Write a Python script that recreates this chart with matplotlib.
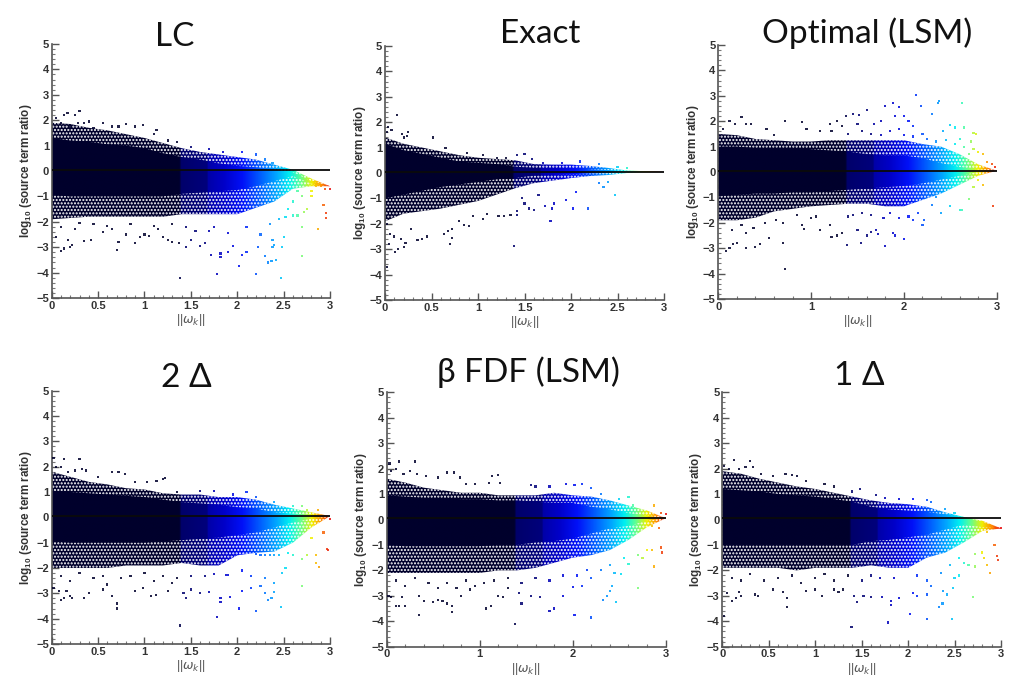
import numpy as np
import matplotlib
matplotlib.use("Agg")
import matplotlib.pyplot as plt
from matplotlib.colors import LinearSegmentedColormap
from matplotlib.patches import Polygon

plt.rcParams["font.family"] = ["Liberation Sans", "DejaVu Sans"]
plt.rcParams["mathtext.fontset"] = "custom"
plt.rcParams["mathtext.bf"] = "Liberation Sans:bold"
plt.rcParams["mathtext.rm"] = "Liberation Sans"

W, H = 1029, 675

titles = ["LC", "Exact", "Optimal (LSM)", "2 Δ", "β FDF (LSM)", "1 Δ"]

# envelope of the cloud, read at every 0.2 of ||omega_k||
nodes = [0, .2, .4, .6, .8, 1.0, 1.2, 1.4, 1.6, 1.8, 2.0, 2.2, 2.4, 2.6, 2.8, 3.0]

lc_core_hi = [1.3, 1.2, 1.15, 1.05, 1.0, .9, .7, .55, .45, .3, .2, .15, .05, -.05, -.4, -.6]
lc_core_lo = [-.95, -1, -1, -1, -1, -1, -1, -.9, -.85, -.8, -.75, -.6, -.4, -.2, -.5, -.6]
lc_edge_hi = [1.9, 1.85, 1.7, 1.6, 1.45, 1.3, 1.1, .9, .75, .65, .55, .45, .25, .05, -.3, -.6]
lc_edge_lo = [-1.9, -1.85, -1.8, -1.8, -1.8, -1.8, -1.8, -1.7, -1.7, -1.7, -1.7, -1.45, -1.2, -.7, -.6, -.6]

ex_core_hi = [1.15, .9, .75, .6, .45, .4, .35, .25, .2, .2, .2, .15, .12, .08, .06, .05]
ex_core_lo = [-1, -.85, -.7, -.55, -.45, -.35, -.25, -.2, -.1, -.08, -.05, -.02, 0, .03, .04, .05]
ex_edge_hi = [1.4, 1.15, 1.0, .85, .7, .6, .55, .5, .35, .33, .33, .28, .2, .1, .07, .05]
ex_edge_lo = [-1.9, -1.6, -1.5, -1.4, -1.25, -1.1, -.85, -.6, -.4, -.3, -.2, -.12, -.08, 0, .03, .05]

op_core_hi = [1, 1, .95, .95, .95, .9, .85, .8, .7, .65, .65, .55, .35, .2, .1, .05]
op_core_lo = [-.95, -.9, -.85, -.85, -.8, -.8, -.75, -.7, -.65, -.6, -.55, -.45, -.3, -.15, 0, .05]
op_edge_hi = [1.5, 1.45, 1.3, 1.25, 1.2, 1.2, 1.25, 1.25, 1.25, 1.25, 1.25, 1.1, 1.0, .7, .3, .05]
op_edge_lo = [-1.9, -1.9, -1.8, -1.55, -1.45, -1.35, -1.3, -1.25, -1.25, -1.35, -1.35, -1.1, -.85, -.5, -.15, .05]

d2_core_hi = [1.05, 1, .95, .9, .85, .8, .7, .6, .55, .5, .4, .35, .2, .15, .1, .05]
d2_core_lo = [-.95, -1, -1, -1, -1, -1, -.95, -.9, -.85, -.8, -.7, -.6, -.4, -.2, -.05, .05]
d2_edge_hi = [1.8, 1.6, 1.4, 1.3, 1.15, 1.1, .95, .9, .9, .8, .8, .7, .5, .35, .2, .05]
d2_edge_lo = [-2, -2, -2, -2, -1.9, -1.9, -1.9, -1.8, -1.9, -1.9, -1.5, -1.4, -1.35, -1, -.4, .05]

bf_core_hi = [.95, .9, .85, .85, .8, .8, .75, .75, .7, .65, .65, .5, .4, .25, .15, .05]
bf_core_lo = [-1, -1.05, -1.05, -1.05, -1.05, -1.05, -1, -1, -.9, -.85, -.75, -.55, -.35, -.25, -.05, .05]
bf_edge_hi = [1.6, 1.45, 1.25, 1.15, 1.05, 1.05, .95, .95, .95, 1.05, .95, .9, .75, .55, .35, .05]
bf_edge_lo = [-2.1, -2.1, -2.1, -2.1, -2.1, -2.1, -2, -2, -1.9, -1.7, -1.5, -1.4, -1.2, -.8, -.3, .05]

d1_core_hi = [1.2, 1.15, 1.1, 1, .95, .9, .8, .7, .5, .4, .35, .3, .2, .1, -.1, -.35]
d1_core_lo = [-1, -1, -1, -1, -1, -1, -1, -1, -.85, -.8, -.7, -.6, -.4, -.2, -.3, -.35]
d1_edge_hi = [1.9, 1.8, 1.6, 1.45, 1.3, 1.2, 1.05, .9, .75, .65, .6, .5, .28, .1, -.05, -.35]
d1_edge_lo = [-1.9, -1.9, -1.9, -1.9, -2, -1.9, -1.9, -1.9, -1.8, -1.9, -1.9, -1.5, -1.3, -.9, -.45, -.35]

# isolated points outside the cloud, (x, y)
lc_pts = [(.05, 2.1), (.1, 1.9), (.13, 2.2), (.17, 2.3), (.2, 1.75), (.25, 2.2), (.3, 2.35), (.28, 1.9), (.35, 1.9), (.4, 1.95), (.45, 1.7), (.55, 1.9), (.65, 1.75), (.72, 1.75), (.8, 1.85), (.9, 1.75), (.98, 1.8), (1.1, 1.45), (1.13, 1.6), (1.25, 1.2), (1.35, 1.15), (1.5, .95), (1.7, .85), (1.85, .75), (2.05, .75), (2.2, .65), (2.3, .45), (2.38, .3),
          (.05, -2.6), (.1, -3.15), (.13, -3.05), (.18, -2.7), (.2, -3), (.22, -2.9), (.35, -2.75), (.42, -2.7), (.55, -2.4), (.7, -3.1), (.72, -2.8), (.8, -2.5), (.9, -2.85), (.95, -2.6), (1, -2.5), (1.05, -2.55), (1.2, -2.6), (1.25, -2.7), (1.3, -2.8), (1.38, -4.2), (1.37, -2.85), (1.45, -3), (1.5, -2.7), (1.6, -2.95), (1.65, -2.85), (1.72, -3.3), (1.78, -4.05), (1.82, -3.25), (1.82, -3.4), (1.9, -3.2), (1.95, -2.95), (2.02, -3.75), (2.05, -3.3), (2.1, -3.2), (2.2, -4.05), (2.22, -3), (2.3, -3.35), (2.33, -3.6), (2.37, -3.55), (2.38, -3), (2.4, -2.9), (2.38, -2.7), (2.42, -3.5), (2.47, -4.2), (2.48, -3), (2.5, -2.6), (2.52, -1.8), (2.55, -1.5), (2.6, -1.75), (2.65, -1.75), (2.7, -2.2), (2.7, -3.35), (2.72, -1.6), (2.75, -1.5), (2.8, -1), (2.85, -.6), (2.87, -2.3), (2.9, -.6), (2.95, -.7), (2.93, -1.35), (2.96, -1.65), (2.96, -1.85), (3, -.7), (2.8, -.8), (2.75, -.55), (2.85, -.5),
          (.1, -2.2), (.25, -2.3), (.3, -2.05), (.45, -2.1), (.6, -2.15), (.65, -2.3), (.85, -2.1), (1.1, -2.15), (1.15, -2.3), (1.3, -2.1), (1.45, -2.2), (1.55, -2.35), (1.7, -2.35), (1.75, -2.2), (1.9, -2.45), (2.1, -2.2), (2.25, -2.5), (2.35, -2.1), (2.45, -1.9), (2.6, -1.2), (2.7, -1.0), (2.65, -.8)]

ex_pts = [(.02, 1.6), (.03, 1.8), (.07, 1.7), (.13, 2.28), (.18, 1.55), (.2, 1.4), (.25, 1.6), (.24, 1.45), (.52, 1.4), (.65, 1), (.88, .8), (1.05, .7), (1.2, .6), (1.3, .6), (1.42, .72), (1.5, .75), (1.58, .55), (1.7, .4), (1.9, .4), (2.1, .45), (2.3, .35), (2.5, .25), (2.6, .2),
          (.02, -2), (.04, -2.8), (.05, -2.4), (.02, -3.7), (.1, -2.5), (.11, -3.1), (.14, -3), (.17, -2.6), (.2, -2.9), (.22, -2.75), (.28, -2.2), (.35, -2.65), (.4, -2.6), (.45, -2.5), (.63, -2.4), (.68, -2.3), (.7, -2.8), (.72, -2.55), (.72, -2.2), (.8, -1.9), (.85, -2.05), (.9, -2.1), (.95, -1.7), (1.05, -1.8), (1.1, -1.6), (1.22, -1.7), (1.28, -1.7), (1.35, -1.65), (1.39, -2.87), (1.42, -1.5), (1.42, -1.65), (1.47, -1), (1.5, -1.2), (1.55, -1.4), (1.6, -1.45), (1.65, -.85), (1.72, -1.3), (1.78, -1.9), (1.8, -1.4), (1.82, -1.2), (1.95, -1.05), (2.02, -1.4), (2.05, -.75), (2.18, -1.4), (2.3, -.4), (2.35, -.55), (2.4, -.35), (2.47, -.85)]

op_pts = [(.05, 1.7), (.12, 2), (.18, 1.9), (.25, 2.15), (.3, 1.9), (.35, 1.9), (.52, 1.7), (.6, 1.45), (.72, 2.02), (.9, 1.97), (.95, 1.7), (1.1, 1.6), (1.2, 1.9), (1.22, 1.6), (1.28, 2), (1.33, 1.8), (1.38, 2.2), (1.45, 2.3), (1.5, 1.9), (1.52, 2.25), (1.6, 2.45), (1.68, 1.9), (1.75, 2), (1.8, 2.6), (1.88, 2.72), (1.9, 2.2), (1.95, 2.55), (2, 2.2), (2.05, 2), (2.1, 1.8), (2.13, 3.03), (2.18, 2.6), (2.2, 1.5), (2.3, 2.28), (2.37, 2.7), (2.38, 2.8), (2.42, 1.6), (2.5, 1.85), (2.55, 1.75), (2.6, 1.3), (2.63, 2.7), (2.65, 1.75), (2.72, 1.2), (2.75, 1.55), (2.78, 1.5), (2.8, .8), (2.85, .7), (2.9, .4), (2.95, .3), (2.98, .2),
          (1.4, 1.5), (1.55, 1.6), (1.65, 1.5), (1.75, 1.45), (1.85, 1.6), (1.95, 1.7), (2.0, 1.45), (2.1, 1.4), (2.25, 1.3), (2.35, 1.2), (2.45, 1.25), (2.55, 1.1), (2.65, 1.0), (2.7, .7), (2.75, .9),
          (.08, -3.1), (.12, -3), (.16, -2.85), (.2, -2.8), (.3, -3), (.4, -2.95), (.45, -2.85), (.55, -2.6), (.7, -2.8), (.72, -3.83), (.9, -2.1), (.92, -2.25), (1, -1.8), (1.1, -2.3), (1.2, -2.1), (1.22, -2.55), (1.28, -2.5), (1.33, -2.4), (1.39, -2.87), (1.45, -1.7), (1.5, -2.3), (1.54, -2.8), (1.6, -2.5), (1.65, -2.35), (1.7, -2.3), (1.72, -2.45), (1.8, -2.9), (1.88, -2.4), (1.9, -2.5), (2, -2.65), (2.05, -1.75), (2.1, -1.9), (2.2, -2.1), (2.22, -1.9), (2.35, -1), (2.4, -1.6), (2.5, -1.35), (2.6, -1.5), (2.63, -1.5), (2.7, -1.05), (2.75, -.6), (2.85, -.5), (2.96, -1.35), (2.8, -.3),
          (.15, -2.3), (.25, -2.1), (.3, -2.4), (.38, -2.2), (.5, -2.0), (.62, -1.9), (.7, -2.0), (.85, -1.7), (1.05, -1.75), (1.4, -1.75), (1.55, -1.6), (1.65, -1.7), (1.78, -1.8), (1.85, -1.6), (1.95, -1.8), (2.15, -1.6), (2.3, -1.3)]

d2_pts = [(.02, 2.35), (.05, 2), (.1, 2), (.13, 2.3), (.18, 1.8), (.25, 1.85), (.3, 2.3), (.33, 1.9), (.37, 1.85), (.5, 1.6), (.65, 1.8), (.72, 1.8), (.79, 1.7), (.9, 1.4), (1.03, 1.4), (1.13, 1.45), (1.2, 1.5), (1.22, 1.55), (1.35, 1), (1.6, 1.05), (1.75, 1.05), (1.95, .9), (2.1, 1), (2.2, .8), (2.4, .6), (2.6, .45), (2.7, .45), (2.87, .3), (2.75, .3),
          (.02, -2.8), (.08, -2.9), (.1, -3.25), (.13, -3.2), (.16, -2.9), (.2, -3.1), (.22, -3.2), (.35, -3.2), (.4, -3), (.55, -2.85), (.65, -3.1), (.7, -3.4), (.7, -3.6), (.9, -2.9), (.98, -2.8), (1.07, -3.1), (1.12, -3.05), (1.25, -2.9), (1.3, -2.6), (1.38, -4.27), (1.42, -3), (1.45, -3.2), (1.5, -2.85), (1.6, -3), (1.7, -2.95), (1.78, -3.95), (1.82, -3.2), (1.82, -3.35), (1.92, -3.15), (2.02, -3.6), (2.05, -2.9), (2.15, -2.8), (2.2, -3.7), (2.25, -2.7), (2.3, -3), (2.33, -3.25), (2.37, -3.2), (2.4, -2.6), (2.4, -2.95), (2.47, -3.55), (2.48, -2.2), (2.52, -2), (2.55, -1.4), (2.6, -1.5), (2.7, -2.7), (2.7, -1.65), (2.75, -1.5), (2.8, -.8), (2.85, -1.8), (2.88, -1.95), (2.85, -1.5), (2.93, -.6), (2.97, -1.25), (2.98, -1.3), (3, -.05), (2.2, -1.45), (2.25, -1.47), (2.3, -1.5), (2.35, -1.47), (2.4, -1.47), (2.45, -1.47), (1.9, -2.28), (1.88, -2.28),
          (.1, -2.3), (.2, -2.5), (.3, -2.2), (.45, -2.4), (.55, -2.3), (.6, -2.65), (.75, -2.4), (.85, -2.3), (1, -2.2), (1.1, -2.5), (1.2, -2.3), (1.35, -2.4), (1.5, -2.3), (1.65, -2.3), (1.75, -2.25), (2.05, -2.1), (2.15, -2.3), (2.3, -2.4)]

bf_pts = [(.03, 2.2), (.05, 1.9), (.1, 2), (.13, 2.28), (.18, 1.8), (.25, 1.9), (.3, 2.28), (.33, 1.8), (.42, 1.7), (.55, 1.65), (.65, 1.85), (.72, 1.85), (.79, 1.65), (.85, 1.4), (.95, 1.4), (1.1, 1.45), (1.13, 1.7), (1.2, 1.75), (1.22, 1.45), (1.55, 1.35), (1.6, 1.3), (1.75, 1.3), (1.93, 1.4), (2.02, 1.35), (2.1, 1.4), (2.2, 1.25), (2.3, 1), (2.5, .8), (2.6, .9), (2.65, .55), (2.87, .55), (2.95, .25), (3, .2),
          (.02, -3), (.05, -3.05), (.1, -3.4), (.13, -3.4), (.2, -3.4), (.16, -3.05), (.35, -3.75), (.35, -3), (.4, -3.2), (.5, -3.25), (.55, -3.15), (.6, -3.2), (.65, -3.3), (.7, -3.4), (.7, -3.63), (.8, -3), (.9, -2.75), (1.07, -3.5), (1.12, -3.4), (1.2, -3), (1.25, -3.05), (1.3, -2.7), (1.38, -4.1), (1.42, -2.9), (1.45, -3.3), (1.55, -3), (1.65, -3.05), (1.75, -3.6), (1.8, -3.5), (1.9, -3), (2.02, -3.75), (2, -2.65), (2.1, -2.6), (2.2, -3.85), (2.2, -2.3), (2.33, -3.15), (2.37, -3), (2.4, -2.8), (2.42, -2.6), (2.47, -3.25), (2.45, -2.1), (2.52, -2.15), (2.55, -1.5), (2.6, -1.75), (2.7, -2.7), (2.7, -1.4), (2.75, -1.5), (2.8, -1.2), (2.87, -1.85), (2.85, -1.2), (2.95, -1.1), (2.96, -1.3), (2.93, -.35), (2.85, -.25),
          (.1, -2.4), (.2, -2.6), (.3, -2.3), (.45, -2.5), (.55, -2.7), (.65, -2.5), (.75, -2.7), (.85, -2.4), (.95, -2.6), (1.05, -2.5), (1.15, -2.4), (1.3, -2.3), (1.45, -2.5), (1.6, -2.3), (1.75, -2.4), (1.9, -2.2), (2.05, -2.2), (2.15, -2.0), (2.3, -2.0), (2.4, -1.8)]

d1_pts = [(.02, 2.1), (.07, 2), (.13, 2.33), (.18, 2), (.25, 2.05), (.3, 2.3), (.33, 2.05), (.42, 1.8), (.55, 1.7), (.68, 1.8), (.75, 1.75), (.8, 1.7), (.9, 1.5), (1.1, 1.4), (1.2, 1.3), (1.4, 1.1), (1.48, 1.2), (1.65, .95), (1.75, .85), (1.9, .8), (2.05, .8), (2.2, .75), (2.25, .7), (2.4, .4), (2.5, .25),
          (.02, -3.8), (.05, -2.9), (.1, -3.2), (.15, -3.1), (.18, -2.85), (.2, -3), (.35, -2.95), (.38, -3), (.55, -2.75), (.65, -2.85), (.7, -3.1), (.7, -3.45), (.9, -2.8), (1, -2.75), (1.07, -3), (1.2, -2.75), (1.25, -2.85), (1.3, -2.75), (1.39, -4.22), (1.42, -3), (1.45, -3.25), (1.52, -3), (1.6, -3.05), (1.72, -3.05), (1.78, -4.05), (1.82, -3.2), (1.82, -3.35), (1.9, -3.1), (2.02, -3.7), (2.05, -2.9), (2.1, -3), (2.2, -3.9), (2.2, -2.95), (2.25, -2.6), (2.33, -3.45), (2.37, -3.3), (2.38, -2.8), (2.42, -2.95), (2.47, -3.9), (2.48, -2.7), (2.5, -2.3), (2.55, -2.2), (2.55, -1.5), (2.6, -1.7), (2.65, -1.8), (2.7, -3.05), (2.72, -1.85), (2.72, -1.35), (2.8, -1.3), (2.82, -1.5), (2.85, -1.8), (2.88, -2.1), (2.85, -.5), (2.93, -1), (2.96, -1.45), (2.97, -1.6), (2.9, -.3), (2.95, -.35), (3, -.35),
          (.1, -2.3), (.2, -2.4), (.3, -2.15), (.45, -2.4), (.6, -2.3), (.75, -2.2), (.85, -2.5), (1, -2.3), (1.1, -2.15), (1.2, -2.4), (1.35, -2.2), (1.5, -2.4), (1.6, -2.2), (1.7, -2.3), (1.85, -2.3), (2.1, -2.2), (2.2, -2.4), (2.35, -2.1), (2.45, -1.8)]

core_hi = [lc_core_hi, ex_core_hi, op_core_hi, d2_core_hi, bf_core_hi, d1_core_hi]
core_lo = [lc_core_lo, ex_core_lo, op_core_lo, d2_core_lo, bf_core_lo, d1_core_lo]
edge_hi = [lc_edge_hi, ex_edge_hi, op_edge_hi, d2_edge_hi, bf_edge_hi, d1_edge_hi]
edge_lo = [lc_edge_lo, ex_edge_lo, op_edge_lo, d2_edge_lo, bf_edge_lo, d1_edge_lo]
points = [lc_pts, ex_pts, op_pts, d2_pts, bf_pts, d1_pts]
zero_line_x = [0, 3]
zero_line_y = [.05, .05]

# axes box in pixels: left, right, top, bottom
boxes = [(51.7, 330, 44, 298), (385, 664, 46, 300), (718.3, 996.7, 45, 299),
         (51.7, 330, 390.7, 644), (386.7, 665.7, 392.3, 646.7), (722.3, 1001, 392.3, 646.7)]
title_pos = [(175, 46), (540, 43), (867, 43), (186, 387), (528, 382), (859, 385)]
fine_x = [True, True, False, True, False, True]
ylabel_x = [26, 360, 693, 26, 361, 696]

stops = [(0, "#00002c"), (1.375, "#00002c"), (1.385, "#00006a"), (1.67, "#00007c"), (1.68, "#0000a8"),
         (1.85, "#0000c8"), (2.05, "#0010f8"), (2.25, "#0060ff"), (2.42, "#00a8ff"), (2.56, "#00f0f0"),
         (2.68, "#60ff90"), (2.8, "#f0f000"), (2.9, "#ff9000"), (3, "#e81010")]
cmap = LinearSegmentedColormap.from_list("x_jet", [(x / 3, c) for x, c in stops], N=512)


def band(ax, hi, lo, z, speckled=False):
    verts = list(zip(nodes, hi)) + list(zip(nodes[::-1], lo[::-1]))
    im = ax.imshow(np.linspace(0, 1, 600)[None, :], extent=(0, 3, -5, 5), aspect="auto",
                   cmap=cmap, vmin=0, vmax=1, zorder=z, interpolation="bilinear")
    im.set_clip_path(Polygon(verts, closed=True, transform=ax.transData))
    if speckled:
        ax.add_patch(Polygon(verts, closed=True, facecolor="none", edgecolor="white", lw=0,
                             hatch=".....", zorder=z + .1))


fig = plt.figure(figsize=(W / 100, H / 100), dpi=100)

for i in range(6):
    left, right, top, bottom = boxes[i]
    ax = fig.add_axes([left / W, 1 - bottom / H, (right - left) / W, (bottom - top) / H])
    band(ax, edge_hi[i], edge_lo[i], 2, speckled=True)
    band(ax, core_hi[i], core_lo[i], 2.5)
    px, py = zip(*points[i])
    ax.scatter(px, py, s=2.4, c=np.array(px) / 3, cmap=cmap, vmin=0, vmax=1, marker="s",
               linewidths=0, alpha=.85, zorder=3, clip_on=False)
    ax.plot(zero_line_x, zero_line_y, color="#0a0a0a", lw=1.3, zorder=4)
    ax.set_xlim(0, 3)
    ax.set_ylim(-5, 5)
    ax.spines["top"].set_visible(False)
    ax.spines["right"].set_visible(False)
    for s in ["left", "bottom"]:
        ax.spines[s].set_color("#555555")
        ax.spines[s].set_linewidth(1.2)
    if fine_x[i]:
        ax.set_xticks([0, .5, 1, 1.5, 2, 2.5, 3])
        ax.set_xticklabels(["0", "0.5", "1", "1.5", "2", "2.5", "3"])
        ax.set_xticks(np.arange(0, 3.01, .1), minor=True)
    else:
        ax.set_xticks([0, 1, 2, 3])
        ax.set_xticklabels(["0", "1", "2", "3"])
        ax.set_xticks(np.arange(0, 3.01, .2), minor=True)
    ax.set_yticks(range(-5, 6))
    ax.set_yticks(np.arange(-5, 5.01, .2), minor=True)
    ax.tick_params(which="major", direction="in", length=5, width=1, color="#555555",
                   labelsize=8, labelcolor="#333333", pad=2)
    ax.tick_params(which="minor", direction="in", length=2.5, width=.8, color="#777777")
    for lab in ax.get_xticklabels() + ax.get_yticklabels():
        lab.set_fontweight("bold")
    ax.set_xlabel(r"||$\omega_k$||", fontsize=9, color="#555555", labelpad=1)
    fig.text(ylabel_x[i] / W, 1 - (top + bottom) / 2 / H, r"$\mathbf{log_{10}}$ (source term ratio)",
             rotation=90, ha="center", va="center", fontsize=8.4, fontweight="bold", color="#333333")
    fig.text(title_pos[i][0] / W, 1 - title_pos[i][1] / H, titles[i], ha="center", va="baseline",
             fontsize=24, family=["Lato", "Open Sans", "DejaVu Sans"], color="#111111")

fig.savefig("out.png", dpi=100)
